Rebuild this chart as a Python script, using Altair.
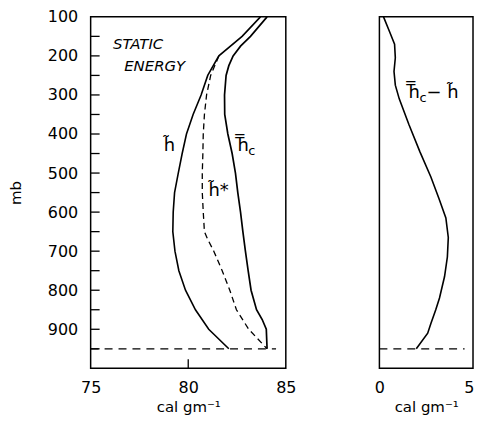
import altair as alt
import pandas as pd

# ---- data ----
P_H = [100, 150, 200, 250, 300, 350, 400, 450, 500, 550, 600, 650, 700, 750, 800, 850, 900, 950]
H_TILDE = [83.7, 82.76, 81.57, 81.0, 80.66, 80.25, 79.91, 79.69, 79.49, 79.3, 79.23, 79.21,
           79.32, 79.52, 79.86, 80.37, 81.05, 82.08]

P_HC = [100, 150, 175, 200, 225, 250, 300, 350, 400, 450, 500, 550, 600, 650, 700, 750, 800,
        850, 875, 900, 950]
H_C = [84.04, 83.19, 82.68, 82.3, 82.08, 81.94, 81.86, 81.87, 82.03, 82.25, 82.42, 82.54, 82.68,
       82.8, 82.93, 83.07, 83.22, 83.5, 83.79, 84.0, 84.04]

P_HS = [200, 250, 300, 350, 400, 450, 500, 550, 600, 650, 670, 700, 750, 800, 850, 900, 950]
H_STAR = [81.57, 81.15, 80.94, 80.83, 80.77, 80.75, 80.72, 80.72, 80.77, 80.83, 81.0, 81.31,
          81.74, 82.13, 82.47, 83.1, 84.04]

P_DIFF = [100, 140, 170, 205, 240, 275, 310, 375, 445, 510, 565, 615, 665, 715, 765, 820, 850,
          885, 910, 950]
DIFF = [0.22, 0.56, 0.81, 0.85, 0.78, 0.85, 1.06, 1.57, 2.16, 2.75, 3.18, 3.55, 3.68, 3.63, 3.48,
        3.21, 3.01, 2.75, 2.58, 1.97]

Y_LABELS = [100, 200, 300, 400, 500, 600, 700, 800, 900]
Y_TICKS = [150, 200, 250, 300, 350, 400, 450, 500, 550, 600, 650, 700, 750, 800, 850, 900, 950]
X_LEFT_LABELS = [75, 80, 85]
X_LEFT_TICKS = [80]
X_RIGHT_LABELS = [0, 5]
BASE_P = [950]
BASE_LEFT = [75, 84.5]
BASE_RIGHT = [0, 4.55]

FONT = "DejaVu Sans"
W1, W2, H = 196, 94, 353

yscale = alt.Scale(domain=[100, 1000], reverse=True, nice=False, zero=False)
xs1 = alt.Scale(domain=[75, 85], nice=False, zero=False)
xs2 = alt.Scale(domain=[0, 5], nice=False, zero=False)

common = dict(ticks=False, domain=False, grid=False, labelFontSize=16, titleFontSize=15,
              labelFont=FONT, titleFont=FONT, labelColor="black", titleColor="black",
              titleFontWeight="normal", labelFlush=False)

yaxis = alt.Axis(values=Y_LABELS, title="mb", labelPadding=13, minExtent=46, maxExtent=46,
                 titlePadding=21, **common)
xaxis1 = alt.Axis(values=X_LEFT_LABELS, title="cal gm⁻¹", labelPadding=11, titlePadding=4, **common)
xaxis2 = alt.Axis(values=X_RIGHT_LABELS, title="cal gm⁻¹", labelPadding=11, titlePadding=4,
                  labelAlign=alt.condition("datum.value >= 5", alt.value("right"), alt.value("center")),
                  labelOffset=alt.condition("datum.value >= 5", alt.value(1), alt.value(0)),
                  **common)

X1 = lambda f: alt.X(f, type="quantitative", scale=xs1, axis=xaxis1)
X2 = lambda f: alt.X(f, type="quantitative", scale=xs2, axis=xaxis2)
Y1 = lambda f: alt.Y(f, type="quantitative", scale=yscale, axis=yaxis)
Y2 = lambda f: alt.Y(f, type="quantitative", scale=yscale, axis=None)

# ---- left panel ----
h_line = alt.Chart(pd.DataFrame({"p": P_H, "v": H_TILDE})).mark_line(
    color="black", strokeWidth=1.6).encode(x=X1("v"), y=Y1("p"), order="p:Q")
hc_line = alt.Chart(pd.DataFrame({"p": P_HC, "v": H_C})).mark_line(
    color="black", strokeWidth=1.7).encode(x=X1("v"), y=Y1("p"), order="p:Q")
hs_line = alt.Chart(pd.DataFrame({"p": P_HS, "v": H_STAR})).mark_line(
    color="black", strokeWidth=1.3, strokeDash=[6, 4]).encode(x=X1("v"), y=Y1("p"), order="p:Q")

base1 = alt.Chart(pd.DataFrame({"p": BASE_P, "x0": [BASE_LEFT[0]], "x1": [BASE_LEFT[1]]})).mark_rule(
    color="black", strokeWidth=1.3, strokeDash=[8, 6]).encode(x=X1("x0"), x2="x1", y=Y1("p"))

yticks = alt.Chart(pd.DataFrame({"p": Y_TICKS})).mark_rule(color="black", strokeWidth=1.3).encode(
    y=Y1("p"), x=alt.value(0), x2=alt.value(9))
xticks = alt.Chart(pd.DataFrame({"v": X_LEFT_TICKS})).mark_rule(color="black", strokeWidth=1.3).encode(
    x=X1("v"), y=alt.value(H), y2=alt.value(H - 9))

title_txt = alt.Chart(pd.DataFrame({"t": ["STATIC", "ENERGY"], "v": [77.43, 78.28], "p": [169, 225]})).mark_text(
    font=FONT, fontSize=15, fontStyle="italic", color="black", align="center", baseline="middle").encode(
    x=X1("v"), y=Y1("p"), text="t:N")

lab_main = alt.Chart(pd.DataFrame({"t": ["h\u0303", "h\u033f", "h\u0303*"],
                                   "v": [78.74, 82.52, 81.04], "p": [444, 444, 559]})).mark_text(
    font=FONT, fontSize=18, color="black", align="left", baseline="alphabetic").encode(
    x=X1("v"), y=Y1("p"), text="t:N")
lab_sub = alt.Chart(pd.DataFrame({"t": ["c"], "v": [82.52], "p": [444]})).mark_text(
    font=FONT, fontSize=13, color="black", align="left", baseline="alphabetic", dx=11, dy=4).encode(
    x=X1("v"), y=Y1("p"), text="t:N")

left = alt.layer(h_line, hc_line, hs_line, base1, yticks, xticks, title_txt, lab_main, lab_sub).properties(
    width=W1, height=H)

# ---- right panel ----
diff_line = alt.Chart(pd.DataFrame({"p": P_DIFF, "v": DIFF})).mark_line(
    color="black", strokeWidth=1.6).encode(x=X2("v"), y=Y2("p"), order="p:Q")
base2 = alt.Chart(pd.DataFrame({"p": BASE_P, "x0": [BASE_RIGHT[0]], "x1": [BASE_RIGHT[1]]})).mark_rule(
    color="black", strokeWidth=1.3, strokeDash=[8, 6]).encode(x=X2("x0"), x2="x1", y=Y2("p"))
rlab_main = alt.Chart(pd.DataFrame({"t": ["h\u033f", "\u2212 h\u0303"], "v": [1.55, 2.52], "p": [309, 309]})).mark_text(
    font=FONT, fontSize=18, color="black", align="left", baseline="alphabetic").encode(
    x=X2("v"), y=Y2("p"), text="t:N")
rlab_sub = alt.Chart(pd.DataFrame({"t": ["c"], "v": [1.55], "p": [309]})).mark_text(
    font=FONT, fontSize=13, color="black", align="left", baseline="alphabetic", dx=11, dy=4).encode(
    x=X2("v"), y=Y2("p"), text="t:N")

right = alt.layer(diff_line, base2, rlab_main, rlab_sub).properties(width=W2, height=H)

chart = alt.hconcat(left, right, spacing=94, bounds="flush",
                    padding={"left": 0, "top": -1, "right": 0, "bottom": 0}).configure(
    background="white").configure_view(stroke="black", strokeWidth=1.5)

chart.save("out.html", embed_options={"renderer": "svg", "actions": False})
